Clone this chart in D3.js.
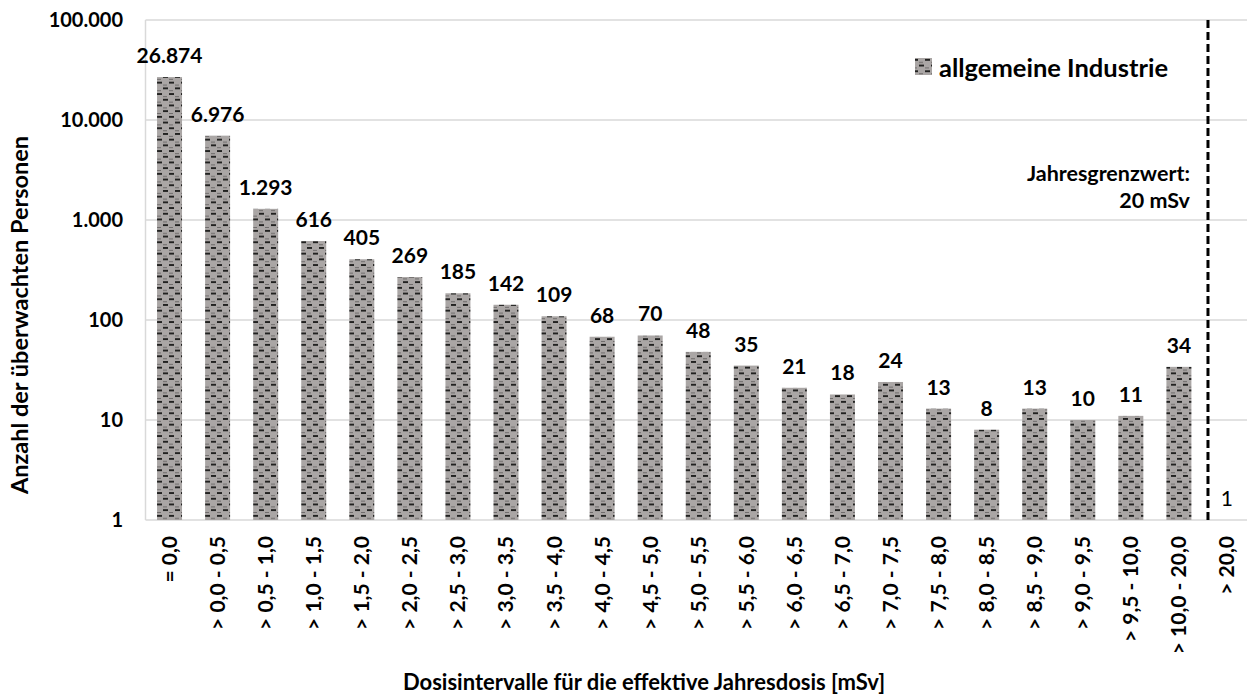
<!DOCTYPE html>
<html><head><meta charset="utf-8">
<script src="https://cdn.jsdelivr.net/npm/d3@7"></script>
<style>
html,body{margin:0;padding:0;background:#fff;}
svg text{font-family:Lato,"Open Sans",sans-serif;fill:#000;}
</style></head>
<body>
<svg id="chart" width="1247" height="698"></svg>
<script>
const categories = ["= 0,0","> 0,0 - 0,5","> 0,5 - 1,0","> 1,0 - 1,5","> 1,5 - 2,0","> 2,0 - 2,5","> 2,5 - 3,0","> 3,0 - 3,5","> 3,5 - 4,0","> 4,0 - 4,5","> 4,5 - 5,0","> 5,0 - 5,5","> 5,5 - 6,0","> 6,0 - 6,5","> 6,5 - 7,0","> 7,0 - 7,5","> 7,5 - 8,0","> 8,0 - 8,5","> 8,5 - 9,0","> 9,0 - 9,5","> 9,5 - 10,0","> 10,0 - 20,0","> 20,0"];
const values = [26874,6976,1293,616,405,269,185,142,109,68,70,48,35,21,18,24,13,8,13,10,11,34,1];
const yTicks = [1,10,100,1000,10000,100000];
const yTickLabels = ["1","10","100","1.000","10.000","100.000"];
const seriesName = "allgemeine Industrie";
const limitLabel = ["Jahresgrenzwert:","20 mSv"];
const xTitle = "Dosisintervalle für die effektive Jahresdosis [mSv]";
const yTitle = "Anzahl der überwachten Personen";

(function(){
const fmt = v => v.toString().replace(/\B(?=(\d{3})+(?!\d))/g, ".");

const svg = d3.select("#chart");
const pLeft = 145.5, pRight = 1251, pTop = 20, pBottom = 520;
const x = d3.scaleBand().domain(categories).range([pLeft, pRight]).paddingInner(0.48).paddingOuter(0.24);
const y = d3.scaleLog().domain([1, 100000]).range([pBottom, pTop]);

// pattern
const defs = svg.append("defs");
const pat = defs.append("pattern").attr("id","dash").attr("patternUnits","userSpaceOnUse")
  .attr("width",12).attr("height",11.4);
pat.append("rect").attr("width",12).attr("height",11.4).attr("fill","#aaa6a5");
pat.append("rect").attr("x",1).attr("y",2).attr("width",5).attr("height",1.7).attr("fill","#111");
pat.append("rect").attr("x",7).attr("y",7.7).attr("width",5).attr("height",1.7).attr("fill","#111");
pat.append("rect").attr("x",7).attr("y",4.9).attr("width",4).attr("height",1).attr("fill","#6b6868");
pat.append("rect").attr("x",1).attr("y",10.5).attr("width",4).attr("height",0.9).attr("fill","#6b6868");

// gridlines
svg.append("g").selectAll("line").data(yTicks).join("line")
  .attr("x1", pLeft).attr("x2", 1247)
  .attr("y1", d => y(d)).attr("y2", d => y(d))
  .attr("stroke", "#d9d9d9").attr("stroke-width", 1.5);
svg.append("line").attr("x1", pLeft).attr("x2", pLeft).attr("y1", pTop).attr("y2", pBottom)
  .attr("stroke", "#d9d9d9").attr("stroke-width", 1.5);

// y-axis labels
svg.append("g").selectAll("text").data(yTicks).join("text")
  .attr("x", 123).attr("y", d => y(d) + 7)
  .attr("text-anchor","end").attr("font-size", 20).attr("font-weight","bold")
  .text((d,i) => yTickLabels[i]);

// bars
svg.append("g").selectAll("rect").data(values).join("rect")
  .attr("x", (d,i) => x(categories[i]))
  .attr("width", x.bandwidth())
  .attr("y", d => y(d))
  .attr("height", d => pBottom - y(d))
  .attr("fill", "url(#dash)");

// value labels
svg.append("g").selectAll("text").data(values).join("text")
  .attr("x", (d,i) => x(categories[i]) + x.bandwidth()/2)
  .attr("y", d => y(d) - 14)
  .attr("text-anchor","middle").attr("font-size", 21)
  .attr("font-weight", d => d === 1 ? "normal" : "bold")
  .text(d => fmt(d));

// x tick labels
svg.append("g").selectAll("text").data(categories).join("text")
  .attr("transform", d => `translate(${x(d) + x.bandwidth()/2 + 7.5},536) rotate(-90)`)
  .attr("text-anchor","end").attr("font-size", 21).attr("font-weight","bold")
  .text(d => d);

// limit dashed line
const step = x.step();
const lx = x(categories[categories.length-1]) - step*0.135;
svg.append("line").attr("x1", lx).attr("x2", lx).attr("y1", pTop).attr("y2", pBottom)
  .attr("stroke","#000").attr("stroke-width",3).attr("stroke-dasharray","8,4");
limitLabel.forEach((t,i) => {
  svg.append("text").attr("x", lx - 18).attr("y", 181 + i*27)
    .attr("text-anchor","end").attr("font-size", 21.5).attr("font-weight","bold").text(t);
});

// legend
svg.append("rect").attr("x",915).attr("y",58).attr("width",17).attr("height",17).attr("fill","url(#dash)");
svg.append("text").attr("x",939).attr("y",77).attr("font-size",25.5).attr("font-weight","bold").text(seriesName);

// axis titles
svg.append("text").attr("x", 644).attr("y", 690)
  .attr("text-anchor","middle").attr("font-size", 22).attr("font-weight","bold").text(xTitle);
svg.append("text").attr("transform","translate(28,315) rotate(-90)")
  .attr("text-anchor","middle").attr("font-size", 23.5).attr("font-weight","bold").text(yTitle);
})();
</script>
</body></html>
